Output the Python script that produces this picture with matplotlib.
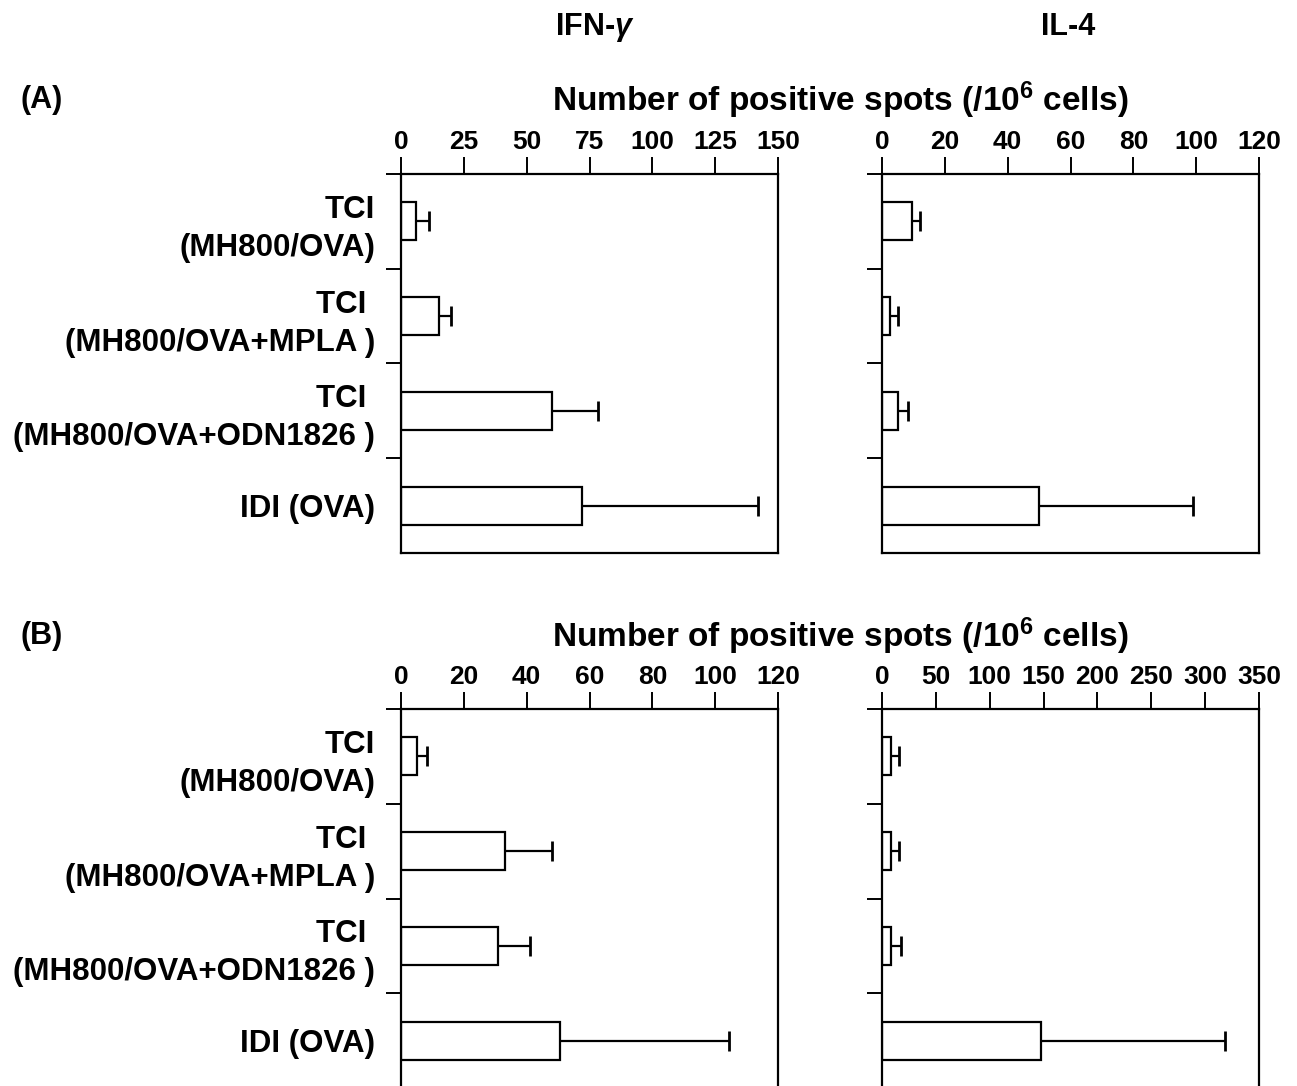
import matplotlib
matplotlib.use('Agg')
import matplotlib.pyplot as plt
import numpy as np

plt.rcParams['font.family'] = ['Liberation Sans', 'DejaVu Sans']
plt.rcParams['font.weight'] = 'bold'
plt.rcParams['mathtext.fontset'] = 'custom'
plt.rcParams['mathtext.rm'] = 'Liberation Sans:bold'
plt.rcParams['mathtext.it'] = 'Liberation Sans:italic:bold'
plt.rcParams['mathtext.default'] = 'rm'

# groups, top to bottom
groups = ['TCI\n(MH800/OVA)', 'TCI \n(MH800/OVA+MPLA )',
          'TCI \n(MH800/OVA+ODN1826 )', 'IDI (OVA)']

# (A)
a_ifn = [6, 15, 60, 72]
a_ifn_err = [5, 5, 18.5, 70]
a_il4 = [9.5, 2.5, 5, 50]
a_il4_err = [2.7, 2.7, 3.3, 49]
# (B)
b_ifn = [5, 33, 31, 50.5]
b_ifn_err = [3.4, 15, 10, 54]
b_il4 = [8, 8, 8, 148]
b_il4_err = [8, 8, 10, 170]

a_ifn_ticks = [0, 25, 50, 75, 100, 125, 150]
a_il4_ticks = [0, 20, 40, 60, 80, 100, 120]
b_ifn_ticks = [0, 20, 40, 60, 80, 100, 120]
b_il4_ticks = [0, 50, 100, 150, 200, 250, 300, 350]

xlabel = 'Number of positive spots (/10$^{6}$ cells)'

W, H = 1297, 1086
fig = plt.figure(figsize=(W / 100, H / 100), dpi=100)


def panel(x0, ytop, vals, errs, ticks, show_labels):
    ax = fig.add_axes([x0 / W, 1 - (ytop + 379) / H, 377 / W, 379 / H])
    pos = np.arange(len(vals)) + 0.5
    ends = np.add(vals, errs)
    ax.barh(pos, vals, height=0.4, color='white', edgecolor='black', linewidth=1.6)
    # one-sided error bars, cap only at the outer end
    ax.hlines(pos, vals, ends, color='black', linewidth=1.6)
    ax.plot(ends, pos, ls='none', marker='|', color='black', ms=15, mew=2)
    ax.set_xlim(ticks[0], ticks[-1])
    ax.set_ylim(4, 0)
    ax.set_xticks(ticks)
    ax.xaxis.tick_top()
    ax.tick_params(axis='x', direction='out', length=12.5, width=1.4, labelsize=19, pad=2)
    ax.set_yticks([0, 1, 2, 3])
    ax.set_yticklabels([])
    ax.tick_params(axis='y', which='major', direction='out', length=11, width=1.4)
    ax.set_yticks(pos, minor=True)
    if show_labels:
        ax.set_yticklabels(groups, minor=True, fontsize=22.5, ha='right',
                           multialignment='right', linespacing=1.35)
        ax.tick_params(axis='y', which='minor', length=0, pad=18.5)
    else:
        ax.set_yticklabels([], minor=True)
        ax.tick_params(axis='y', which='minor', length=0)
    for sp in ax.spines.values():
        sp.set_linewidth(1.6)
    return ax


panel(401, 174, a_ifn, a_ifn_err, a_ifn_ticks, True)
panel(882, 174, a_il4, a_il4_err, a_il4_ticks, False)
panel(401, 709, b_ifn, b_ifn_err, b_ifn_ticks, True)
panel(882, 709, b_il4, b_il4_err, b_il4_ticks, False)

fig.text(595 / W, 1 - 35 / H, r'IFN-$\mathit{\gamma}$', ha='center', va='baseline', fontsize=22)
fig.text(1068 / W, 1 - 35 / H, 'IL-4', ha='center', va='baseline', fontsize=22)
fig.text(20 / W, 1 - 100 / H, '(A)', ha='left', va='center', fontsize=22)
fig.text(840 / W, 1 - 100 / H, xlabel, ha='center', va='center', fontsize=24)
fig.text(20 / W, 1 - 636 / H, '(B)', ha='left', va='center', fontsize=22)
fig.text(840 / W, 1 - 636 / H, xlabel, ha='center', va='center', fontsize=24)

fig.savefig('out.png', dpi=100)
